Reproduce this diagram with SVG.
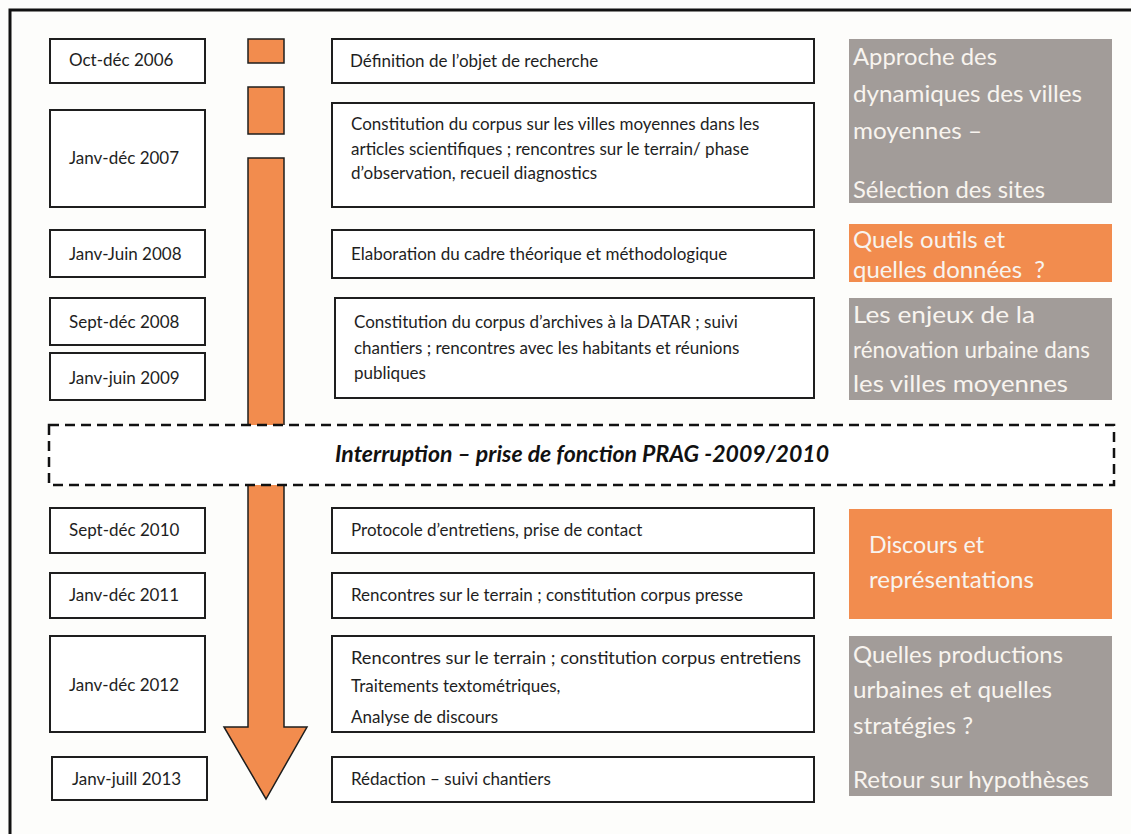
<svg xmlns="http://www.w3.org/2000/svg" width="1131" height="834" viewBox="0 0 1131 834">
<style>
.bx{fill:#fff;stroke:#1e1e1e;stroke-width:2}
.t{font-family:Lato,"Open Sans",sans-serif;font-size:17px;fill:#1e1e1e}
.g{fill:#a29c99}
.o{fill:#f28c4e}
.w{font-family:Lato,"Open Sans",sans-serif;font-size:23px;fill:#f8f4ef}
.or{fill:#f28c4e;stroke:#1e1e1e;stroke-width:1.5}
</style>
<rect x="0" y="0" width="1131" height="834" fill="#fdfdfb"/>
<path d="M10 834 V10 H1131" fill="none" stroke="#111" stroke-width="3"/>
<g id="connectors">
<rect class="or" x="248" y="39" width="36" height="24"/>
<rect class="or" x="248" y="87" width="36" height="47"/>
<polygon class="or" points="248,158 284,158 284,727 307,727 266,799 224,727 248,727"/>
</g>
<g id="interruption">
<rect x="49" y="425" width="1065" height="60" fill="#fff" stroke="#111" stroke-width="2.5" stroke-dasharray="10,6"/>
<text x="335" y="462" textLength="494" lengthAdjust="spacingAndGlyphs" style="font-family:Lato,'Open Sans',sans-serif;font-size:22px;font-weight:bold;font-style:italic;fill:#111">Interruption – prise de fonction PRAG -2009/2010</text>
</g>
<g id="d1"><rect class="bx" x="50" y="39" width="155" height="44"/><text class="t" x="69" y="66">Oct-déc 2006</text></g>
<g id="d2"><rect class="bx" x="50" y="110" width="155" height="97"/><text class="t" x="69" y="164">Janv-déc 2007</text></g>
<g id="d3"><rect class="bx" x="50" y="230" width="155" height="47"/><text class="t" x="69" y="260">Janv-Juin 2008</text></g>
<g id="d4"><rect class="bx" x="50" y="298" width="155" height="47"/><text class="t" x="69" y="328">Sept-déc 2008</text></g>
<g id="d5"><rect class="bx" x="50" y="353" width="155" height="47"/><text class="t" x="69" y="384">Janv-juin 2009</text></g>
<g id="d6"><rect class="bx" x="50" y="508" width="155" height="45"/><text class="t" x="69" y="536">Sept-déc 2010</text></g>
<g id="d7"><rect class="bx" x="50" y="573" width="155" height="45"/><text class="t" x="69" y="601">Janv-déc 2011</text></g>
<g id="d8"><rect class="bx" x="50" y="636" width="155" height="96"/><text class="t" x="69" y="691">Janv-déc 2012</text></g>
<g id="d9"><rect class="bx" x="52" y="757" width="155" height="43"/><text class="t" x="72" y="785">Janv-juill 2013</text></g>
<g id="m1"><rect class="bx" x="332" y="39" width="482" height="44"/><text class="t" x="350" y="67">Définition de l’objet de recherche</text></g>
<g id="m2"><rect class="bx" x="332" y="103" width="482" height="104"/>
<text class="t" x="351" y="130">Constitution du corpus sur les villes moyennes dans les</text>
<text class="t" x="351" y="155">articles scientifiques ; rencontres sur le terrain/ phase</text>
<text class="t" x="351" y="179">d’observation, recueil diagnostics</text></g>
<g id="m3"><rect class="bx" x="332" y="230" width="482" height="48"/><text class="t" x="351" y="260">Elaboration du cadre théorique et méthodologique</text></g>
<g id="m4"><rect class="bx" x="335" y="298" width="479" height="100"/>
<text class="t" x="354" y="328">Constitution du corpus d’archives à la DATAR ; suivi</text>
<text class="t" x="354" y="354">chantiers ; rencontres avec les habitants et réunions</text>
<text class="t" x="354" y="379">publiques</text></g>
<g id="m5"><rect class="bx" x="332" y="508" width="482" height="45"/><text class="t" x="351" y="536">Protocole d’entretiens, prise de contact</text></g>
<g id="m6"><rect class="bx" x="332" y="573" width="482" height="45"/><text class="t" x="351" y="601">Rencontres sur le terrain ; constitution corpus presse</text></g>
<g id="m7"><rect class="bx" x="332" y="636" width="482" height="96"/>
<text class="t" x="351" y="664" textLength="450" lengthAdjust="spacingAndGlyphs">Rencontres sur le terrain ; constitution corpus entretiens</text>
<text class="t" x="351" y="692">Traitements textométriques,</text>
<text class="t" x="351" y="723">Analyse de discours</text></g>
<g id="m8"><rect class="bx" x="332" y="757" width="482" height="45"/><text class="t" x="351" y="785">Rédaction – suivi chantiers</text></g>
<g id="r1"><rect class="g" x="849" y="39" width="263" height="164"/>
<text class="w" x="853" y="65" textLength="144" lengthAdjust="spacingAndGlyphs">Approche des</text>
<text class="w" x="853" y="102" textLength="229" lengthAdjust="spacingAndGlyphs">dynamiques des villes</text>
<text class="w" x="853" y="139" textLength="129" lengthAdjust="spacingAndGlyphs">moyennes –</text>
<text class="w" x="853" y="198" textLength="192" lengthAdjust="spacingAndGlyphs">Sélection des sites</text></g>
<g id="r2"><rect class="o" x="849" y="224" width="263" height="58"/>
<text class="w" x="853" y="248" textLength="152" lengthAdjust="spacingAndGlyphs">Quels outils et</text>
<text class="w" x="853" y="278" textLength="192" lengthAdjust="spacingAndGlyphs" xml:space="preserve">quelles données  ?</text></g>
<g id="r3"><rect class="g" x="849" y="298" width="263" height="102"/>
<text class="w" x="853" y="323" textLength="182" lengthAdjust="spacingAndGlyphs">Les enjeux de la</text>
<text class="w" x="853" y="358" textLength="237" lengthAdjust="spacingAndGlyphs">rénovation urbaine dans</text>
<text class="w" x="853" y="392" textLength="215" lengthAdjust="spacingAndGlyphs">les villes moyennes</text></g>
<g id="r4"><rect class="o" x="849" y="509" width="263" height="110"/>
<text class="w" x="869" y="553" textLength="115" lengthAdjust="spacingAndGlyphs">Discours et</text>
<text class="w" x="869" y="588" textLength="165" lengthAdjust="spacingAndGlyphs">représentations</text></g>
<g id="r5"><rect class="g" x="849" y="636" width="263" height="160"/>
<text class="w" x="853" y="663" textLength="210" lengthAdjust="spacingAndGlyphs">Quelles productions</text>
<text class="w" x="853" y="698" textLength="199" lengthAdjust="spacingAndGlyphs">urbaines et quelles</text>
<text class="w" x="853" y="734" textLength="120" lengthAdjust="spacingAndGlyphs">stratégies ?</text>
<text class="w" x="853" y="788" textLength="236" lengthAdjust="spacingAndGlyphs">Retour sur hypothèses</text></g>
</svg>
